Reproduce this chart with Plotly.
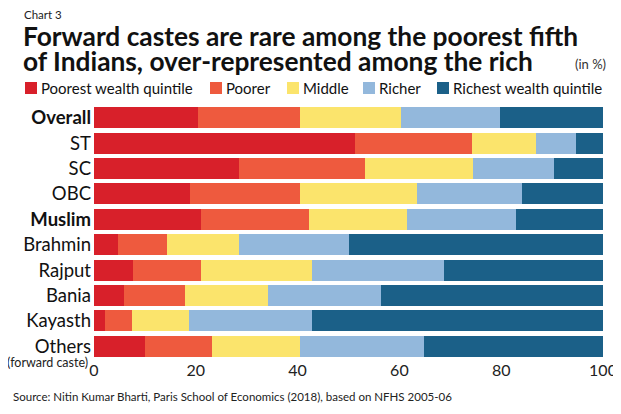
"""
Chart 3 - wealth quintile distribution by caste / community (in %)
"""

import plotly.graph_objects as go

groups = ["Overall", "ST", "SC", "OBC", "Muslim", "Brahmin",
          "Rajput", "Bania", "Kayasth", "Others"]
tick_labels = ["<b>Overall</b>", "ST", "SC", "OBC", "<b>Muslim</b>", "Brahmin",
               "Rajput", "Bania", "Kayasth", "Others"]

quintiles = ["Poorest wealth quintile", "Poorer", "Middle", "Richer",
             "Richest wealth quintile"]

poorest = [20.5, 51.2, 28.5, 18.9, 21.1, 4.7, 7.6, 5.8, 2.2, 10.0]
poorer = [20.0, 23.1, 24.8, 21.6, 21.1, 9.6, 13.4, 12.1, 5.3, 13.2]
middle = [19.8, 12.6, 21.2, 23.0, 19.2, 14.1, 21.8, 16.2, 11.1, 17.3]
richer = [19.4, 7.7, 15.9, 20.6, 21.6, 21.6, 25.9, 22.3, 24.2, 24.4]
richest = [20.3, 5.4, 9.6, 15.9, 17.0, 50.0, 31.3, 43.6, 57.2, 35.1]

colors = ["#d8202a", "#ee5a3e", "#fbe46c", "#93b8dc", "#1b6088"]

FONT = "Lato"
# the page body has an 8px margin, so the figure is 8px smaller than the window
OFF = 8
W, H = 621 - OFF, 414 - OFF
L, R, T, B = 94 - OFF, 18, 105 - OFF, 55

fig = go.Figure()
for name, vals, col in zip(quintiles, [poorest, poorer, middle, richer, richest], colors):
    fig.add_trace(go.Bar(
        x=vals,
        y=groups,
        orientation='h',
        name=name,
        marker=dict(color=col, line=dict(width=0)),
        hoverinfo='x+y+name',
    ))

fig.update_layout(
    width=W,
    height=H,
    barmode='stack',
    bargap=0.17,
    showlegend=False,
    paper_bgcolor="white",
    plot_bgcolor="white",
    margin=dict(l=L, r=R, t=T, b=B, autoexpand=False),
    font=dict(family=FONT, color="#1a1a1a"),
    xaxis=dict(
        range=[0, 100],
        tickvals=[0, 20, 40, 60, 80, 100],
        showgrid=False,
        zeroline=False,
        showline=False,
        ticks="",
        automargin=False,
        tickfont=dict(size=16, color="#222"),
        fixedrange=True,
    ),
    yaxis=dict(
        autorange="reversed",
        tickvals=groups,
        ticktext=tick_labels,
        showgrid=False,
        ticks="",
        automargin=False,
        tickfont=dict(size=18.5, color="#111"),
        ticklabelstandoff=2,
    ),
)


def px(xp, yp):
    # window pixel position -> paper coords
    xp, yp = xp - OFF, yp - OFF
    return (xp - L) / (W - L - R), (H - B - yp) / (H - T - B)


def note(text, xp, yp, size, xanchor="left", color="#111"):
    x, y = px(xp, yp)
    fig.add_annotation(text=text, x=x, y=y, xref="paper", yref="paper",
                       showarrow=False, xanchor=xanchor, yanchor="middle",
                       font=dict(size=size, family=FONT, color=color))


note("Chart 3", 22, 15, 11.5, color="#222")
note("<b>Forward castes are rare among the poorest fifth</b>", 21, 36, 26.3)
note("<b>of Indians, over-represented among the rich</b>", 21, 61, 26.3)
note("(in %)", 608, 64, 13, xanchor="right", color="#333")
note("(forward caste)", 90, 362, 12.5, xanchor="right", color="#222")
note("Source: Nitin Kumar Bharti, Paris School of Economics (2018), based on NFHS 2005-06",
     11, 396, 11.5, color="#222")

# legend drawn by hand to keep the tight spacing
legend_x = [25, 210, 287, 363, 437]
for name, col, lx in zip(quintiles, colors, legend_x):
    x0, y0 = px(lx, 94)
    x1, y1 = px(lx + 12, 82)
    fig.add_shape(type="rect", xref="paper", yref="paper", x0=x0, x1=x1, y0=y0, y1=y1,
                  fillcolor=col, line=dict(width=0))
    note(name, lx + 14, 88, 15, color="#111")

fig.write_html("out.html")
